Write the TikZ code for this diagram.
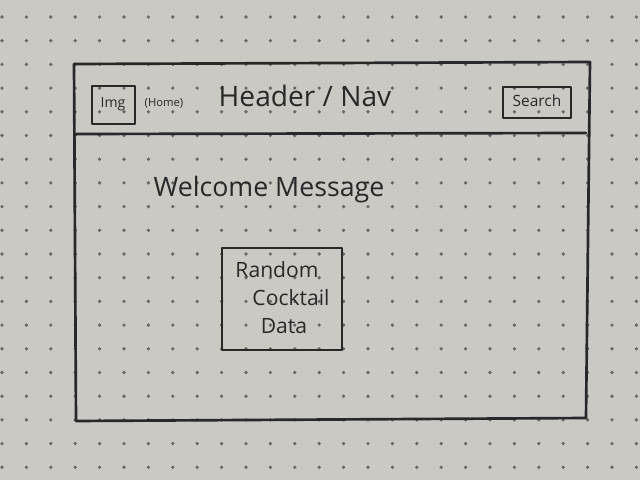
\documentclass[tikz,border=0pt]{standalone}
\usepackage{fontspec}
\setmainfont{Open Sans}
\definecolor{paper}{RGB}{203,201,196}
\definecolor{ink}{RGB}{40,40,40}
\definecolor{dotc}{RGB}{105,103,100}
\begin{document}
\begin{tikzpicture}[x=0.025cm, y=-0.025cm,
  pen/.style={draw=ink, line width=1.9pt, line join=round, line cap=round},
  hand/.style={text=ink, inner sep=0pt, font=\fontsize{#1}{#1}\selectfont},
  hand/.default=14]
  % paper
  \fill[paper] (0,0) rectangle (640,480);
  \useasboundingbox (0,0) rectangle (640,480);
  % dot grid
  \foreach \i in {0,...,26}
    \foreach \j in {0,...,19}
      \fill[dotc] (2+24.4*\i, 17+23.7*\j) circle (1.3pt);
  % page frame and header divider
  \draw[pen] (74,64) -- (590,62) -- (586,418) -- (76,421) -- cycle;
  \draw[pen] (75,134) -- (586,133);
  % header contents
  \draw[pen] (92,86) rectangle (135,124);
  \node[hand=10] (img) at (113,104) {Img};
  \node[hand=8] (home) at (164,103) {(Home)};
  \node[hand=20] (title) at (305,96) {Header / Nav};
  \draw[pen] (503,87) rectangle (571,118);
  \node[hand=11] (search) at (537,101) {Search};
  % body
  \node[hand=19] (welcome) at (269,190) {Welcome Message};
  \draw[pen] (222,248) rectangle (342,350);
  \node[hand=15] (l1) at (277,270) {Random};
  \node[hand=15] (l2) at (291,298) {Cocktail};
  \node[hand=15] (l3) at (284,326) {Data};
\end{tikzpicture}
\end{document}
